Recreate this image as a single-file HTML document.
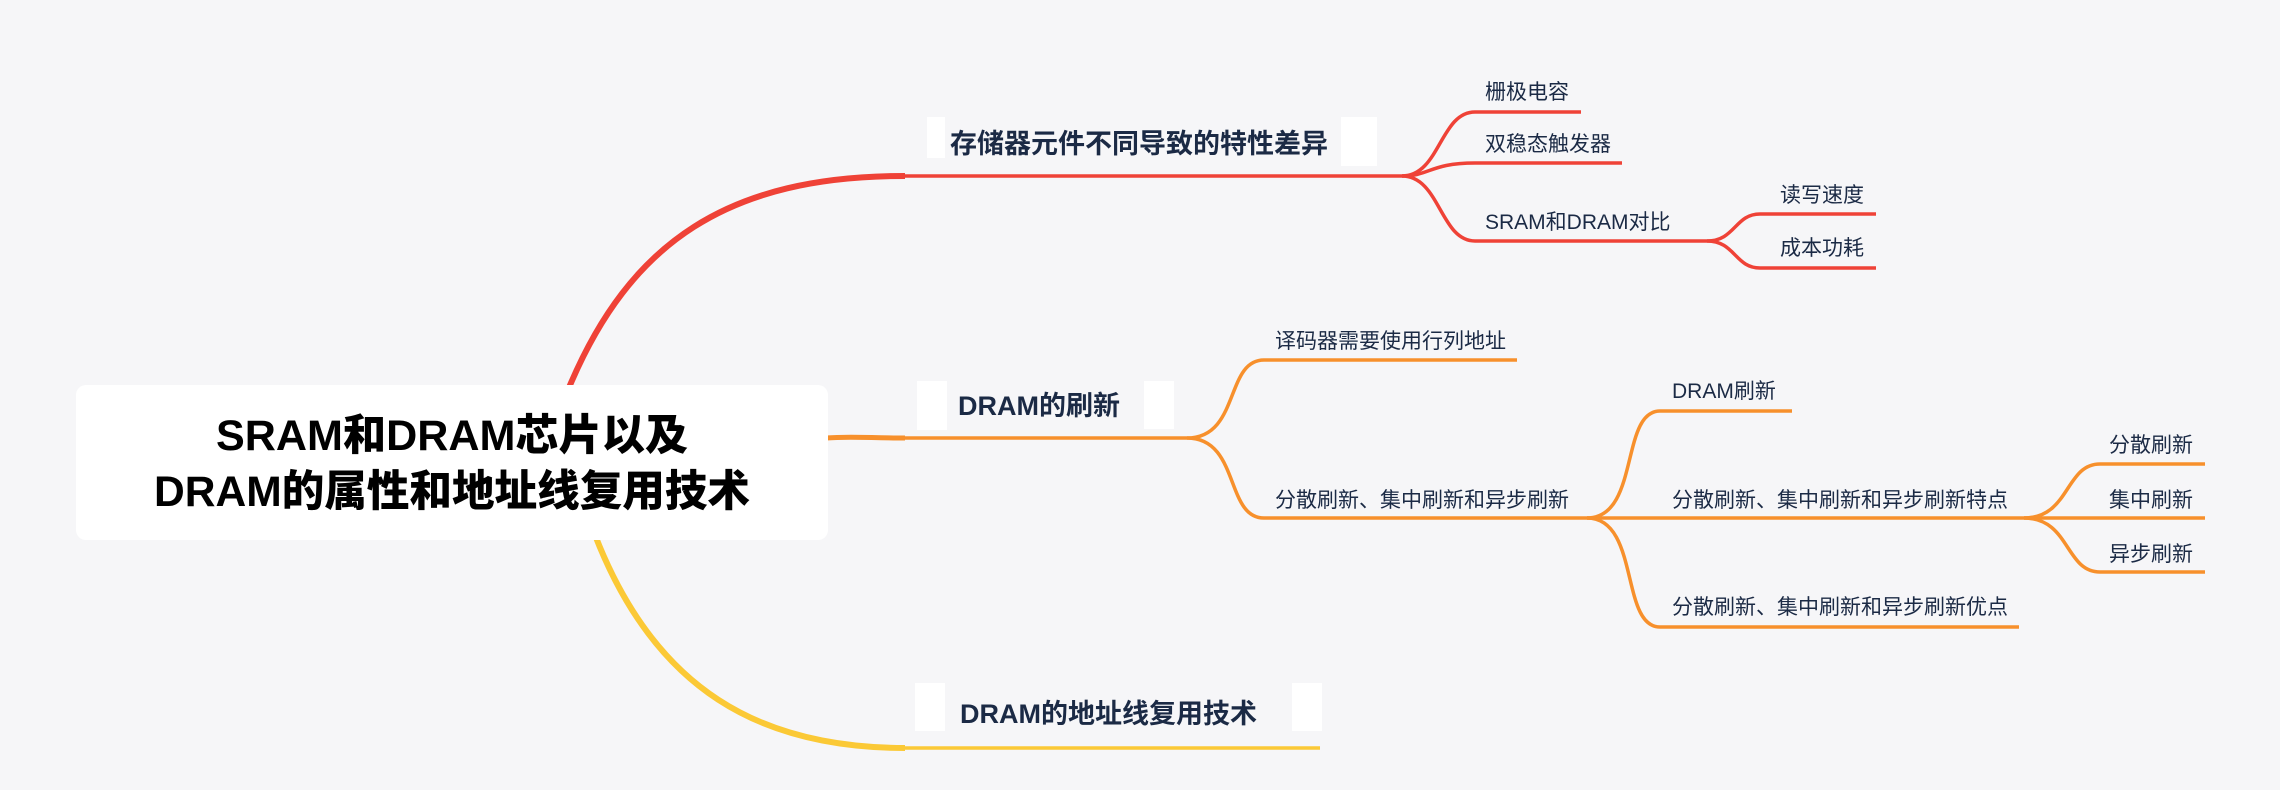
<!DOCTYPE html>
<html><head><meta charset="utf-8"><style>
html,body{margin:0;padding:0;background:#f6f6f8;}
svg{display:block}
text{font-family:"Liberation Sans","Noto Sans CJK SC",sans-serif;fill:#1b2a45;}
.s{font-size:21px;}
.b{font-size:27px;font-weight:bold;}
</style></head><body>
<svg width="2280" height="790" viewBox="0 0 2280 790" xmlns="http://www.w3.org/2000/svg">
<rect width="2280" height="790" fill="#f6f6f8"/>
<path d="M568,390 C630,240 730,176 905,176" fill="none" stroke="#ef4237" stroke-width="6"/>
<path d="M826,438 C850,436 870,438 905,438" fill="none" stroke="#f7902c" stroke-width="5"/>
<path d="M595,535 C655,690 760,748 905,748" fill="none" stroke="#fbc936" stroke-width="6"/>
<g fill="none" stroke="#ef4237" stroke-width="3.5">
<path d="M900,176 H1402"/>
<path d="M1402,176 C1440,176 1440,112 1475,112 H1581"/>
<path d="M1402,176 C1430,176 1430,163 1475,163 H1622"/>
<path d="M1402,176 C1440,176 1440,241 1475,241 H1707"/>
<path d="M1707,241 C1735,241 1735,214 1760,214 H1876"/>
<path d="M1707,241 C1735,241 1735,268 1760,268 H1876"/>
</g>
<g fill="none" stroke="#f7902c" stroke-width="3.5">
<path d="M900,438 H1187"/>
<path d="M1187,438 C1240,438 1225,360 1264,360 H1517"/>
<path d="M1187,438 C1240,438 1225,518 1264,518 H1587"/>
<path d="M1587,518 C1640,518 1620,411 1660,411 H1792"/>
<path d="M1587,518 H2024"/>
<path d="M1587,518 C1640,518 1620,627 1660,627 H2019"/>
<path d="M2024,518 C2070,518 2065,464 2100,464 H2205"/>
<path d="M2024,518 H2205"/>
<path d="M2024,518 C2070,518 2065,572 2100,572 H2205"/>
</g>
<path d="M900,748 H1320" fill="none" stroke="#fbc936" stroke-width="3.5"/>
<rect x="76" y="385" width="752" height="155" rx="10" fill="#ffffff"/>
<text x="452" y="450" text-anchor="middle" style="font-size:43px;font-weight:900;fill:#000" textLength="472" lengthAdjust="spacingAndGlyphs">SRAM和DRAM芯片以及</text>
<text x="452" y="506" text-anchor="middle" style="font-size:43px;font-weight:900;fill:#000" textLength="596" lengthAdjust="spacingAndGlyphs">DRAM的属性和地址线复用技术</text>
<g fill="#ffffff">
<rect x="927" y="117" width="18" height="41"/><rect x="1341" y="117" width="36" height="49"/>
<rect x="917" y="381" width="30" height="49"/><rect x="1144" y="381" width="30" height="48"/>
<rect x="915" y="683" width="30" height="48"/><rect x="1292" y="683" width="30" height="48"/>
</g>
<text class="b" x="950" y="153" textLength="378" lengthAdjust="spacingAndGlyphs">存储器元件不同导致的特性差异</text>
<text class="b" x="958" y="415">DRAM的刷新</text>
<text class="b" x="960" y="723">DRAM的地址线复用技术</text>
<g>
<text class="s" x="1485" y="99">栅极电容</text>
<text class="s" x="1485" y="151">双稳态触发器</text>
<text class="s" x="1485" y="229">SRAM和DRAM对比</text>
<text class="s" x="1780" y="202">读写速度</text>
<text class="s" x="1780" y="255">成本功耗</text>
<text class="s" x="1275" y="348">译码器需要使用行列地址</text>
<text class="s" x="1275" y="507">分散刷新、集中刷新和异步刷新</text>
<text class="s" x="1672" y="398">DRAM刷新</text>
<text class="s" x="1672" y="507">分散刷新、集中刷新和异步刷新特点</text>
<text class="s" x="1672" y="614">分散刷新、集中刷新和异步刷新优点</text>
<text class="s" x="2109" y="452">分散刷新</text>
<text class="s" x="2109" y="507">集中刷新</text>
<text class="s" x="2109" y="561">异步刷新</text>
</g>
</svg>
</body></html>
